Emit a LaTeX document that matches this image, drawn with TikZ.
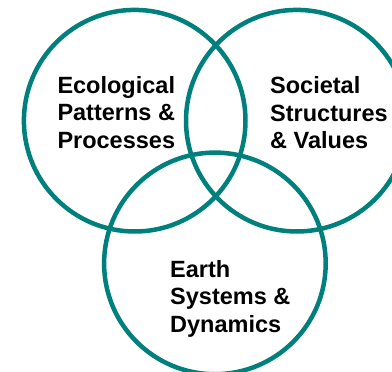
\documentclass[tikz,border=0pt]{standalone}
\usepackage{fontspec}
\setmainfont{Liberation Sans}
\definecolor{teal1}{RGB}{0,128,124}
\begin{document}
\begin{tikzpicture}[x=1pt,y=-1pt,
  ring/.style={draw=teal1,line width=4.5pt},
  label/.style={anchor=north west,inner sep=0pt,align=left,
    font=\fontsize{23.5}{27.5}\selectfont\bfseries}]
\useasboundingbox (0,0) rectangle (392,372);
\clip (0,0) rectangle (392,372);
\draw[ring] (134.7,120.7) circle[radius=110.8];
\draw[ring] (296.8,120.7) circle[radius=110.8];
\draw[ring] (214.9,263.4) circle[radius=110.8];
\node[label] (eco) at (57.3,75.8) {Ecological\\Patterns \&\\Processes};
\node[label] (soc) at (270,76.4) {Societal\\Structures\\\& Values};
\node[label] (earth) at (170,259.8) {Earth\\Systems \&\\Dynamics};
\end{tikzpicture}
\end{document}
